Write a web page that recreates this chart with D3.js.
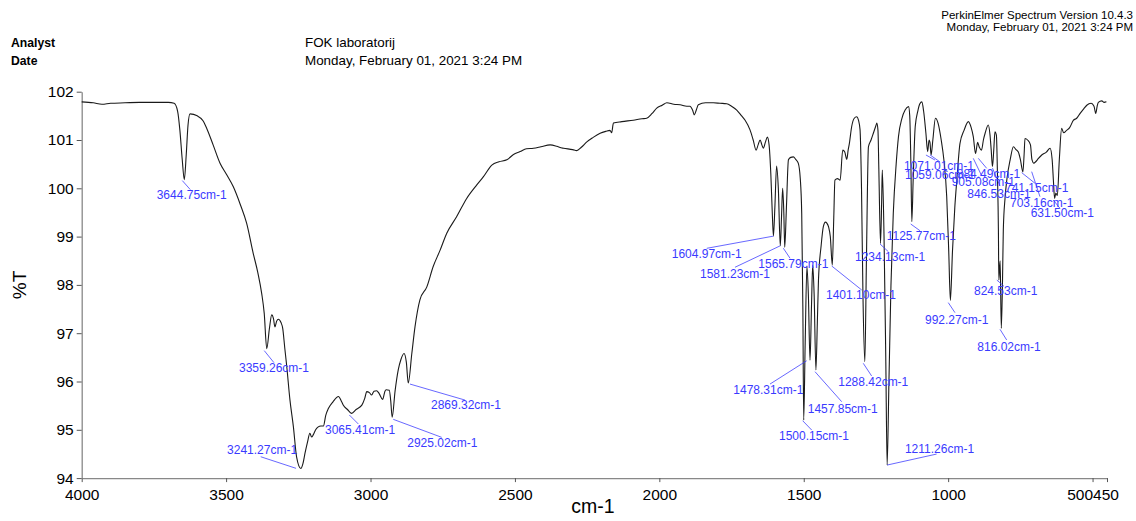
<!DOCTYPE html>
<html>
<head>
<meta charset="utf-8">
<script src="https://cdn.jsdelivr.net/npm/d3@7"></script>
<style>
  html, body { margin: 0; padding: 0; background: #fff; }
  svg { display: block; font-family: "Liberation Sans", Arial, sans-serif; }
</style>
</head>
<body>
<svg id="chart" width="1136" height="521"></svg>
<script>
// ---------- data ----------
const xTickValues = [4000, 3500, 3000, 2500, 2000, 1500, 1000, 500, 450];
const yTickValues = [94, 95, 96, 97, 98, 99, 100, 101, 102];

// spectrum: [wavenumber cm-1, %T]
const spectrum = [
  [4000,101.79],[3960,101.77],[3930,101.74],[3900,101.76],[3850,101.77],[3800,101.78],[3750,101.78],[3700,101.78],
  [3680,101.76],[3668,101.6],[3660,101.2],[3652,100.6],[3644.75,100.18],[3638,100.7],[3632,101.3],[3625,101.54],
  [3600,101.5],[3580,101.4],[3567,101.24],[3545,100.9],[3521,100.52],[3500,100.3],[3475,100.03],[3450,99.65],
  [3429,99.28],[3406,98.65],[3390,98.25],[3377,97.83],[3368,97.41],[3359.26,96.68],[3350,97.1],[3342,97.38],
  [3336,97.3],[3331,97.13],[3325,97.25],[3319,97.29],[3310,97.22],[3304,97.10],[3297,96.7],[3290,96.31],
  [3279,95.62],[3267,95.06],[3256,94.44],[3241.27,94.2],[3234,94.3],[3227,94.51],[3218,94.75],[3210,94.93],
  [3204,94.85],[3198,94.9],[3190,95.0],[3181,95.06],[3172,95.08],[3163,95.08],[3155,95.3],[3146,95.44],
  [3130,95.58],[3111,95.69],[3100,95.58],[3094,95.51],[3080,95.42],[3065.41,95.34],[3050,95.42],[3030,95.51],
  [3020,95.65],[3013,95.79],[3004,95.77],[2996,95.72],[2988,95.8],[2979,95.81],[2970,95.75],[2958,95.63],
  [2950,95.8],[2946,95.83],[2935,95.82],[2930,95.6],[2925.02,95.26],[2915,95.8],[2904,96.24],[2895,96.45],
  [2884,96.58],[2876,96.4],[2869.32,95.97],[2857,96.58],[2846,97.13],[2829,97.69],[2805,97.96],[2783,98.38],
  [2759,98.72],[2736,99.07],[2702,99.41],[2667,99.79],[2632,100.07],[2609,100.24],[2580,100.48],[2555,100.55],
  [2528,100.59],[2505,100.7],[2482,100.76],[2460,100.82],[2436,100.83],[2410,100.86],[2378,100.9],[2355,100.87],
  [2340,100.84],[2332,100.83],[2300,100.8],[2286,100.78],[2270,100.85],[2251,100.96],[2230,101.05],[2205,101.14],
  [2185,101.18],[2171,101.2],[2165,101.15],[2159,101.35],[2130,101.38],[2090,101.41],[2060,101.44],[2044,101.45],
  [2025,101.55],[2009,101.66],[1990,101.72],[1974,101.77],[1950,101.74],[1928,101.73],[1905,101.7],[1894,101.7],
  [1885,101.62],[1879,101.52],[1872,101.62],[1865,101.73],[1840,101.77],[1813,101.77],[1790,101.76],[1767,101.75],
  [1750,101.7],[1732,101.62],[1715,101.5],[1703,101.41],[1686,101.21],[1675,101.0],[1665,100.79],[1658,100.9],
  [1651,101.0],[1645,100.9],[1640,100.83],[1633,100.95],[1626,101.06],[1620,100.9],[1614,100.3],[1609,99.5],
  [1604.97,99.01],[1600,99.6],[1594,100.46],[1588,100.0],[1581.23,98.81],[1577,99.4],[1573,100.0],[1569,99.5],
  [1565.79,98.78],[1560,99.6],[1553,100.59],[1545,100.64],[1536,100.65],[1528,100.6],[1519,100.52],[1512,100.2],
  [1507,99.48],[1503,97.5],[1500.15,95.2],[1495,96.8],[1489,98.38],[1484,97.8],[1478.31,96.44],[1473,97.6],
  [1469,98.41],[1464,97.8],[1457.85,96.24],[1453,97.2],[1449,98.10],[1440,98.8],[1432,99.21],[1425,99.3],
  [1420,99.28],[1414,99.2],[1408,99.0],[1401.10,98.41],[1396,99.4],[1392,100.17],[1383,100.2],[1374,100.17],
  [1365,100.79],[1358,100.75],[1351,100.6],[1346,100.8],[1342,100.93],[1334,101.28],[1325,101.45],[1317,101.48],
  [1310,101.4],[1305,101.21],[1300,100.0],[1295,97.8],[1288.42,96.41],[1283,98.5],[1276,100.86],[1267,101.0],
  [1259,101.14],[1250,101.3],[1247,101.35],[1243,101.2],[1240,100.4],[1234.13,98.86],[1230,99.8],[1228,100.38],
  [1222,99.0],[1216,96.5],[1211.26,94.27],[1205,96.0],[1198,98.0],[1190,99.48],[1180,100.5],[1172,101.07],
  [1160,101.45],[1149,101.62],[1137,101.69],[1133,101.5],[1129,100.5],[1125.77,99.31],[1121,100.2],[1114,101.28],
  [1105,101.6],[1098,101.75],[1091,101.79],[1085,101.6],[1077,101.14],[1071.01,100.76],[1066,101.0],[1063,100.95],
  [1059.06,100.69],[1053,101.0],[1044,101.45],[1035,101.35],[1024,101.0],[1015,100.6],[1005,99.83],[998,98.7],
  [992.27,97.68],[985,98.7],[977,99.6],[970,100.17],[959,100.93],[945,101.2],[930,101.38],[920,101.25],
  [913,101.07],[905.08,100.72],[898,100.95],[892,100.85],[884.49,100.79],[878,101.0],[872,101.14],[861,101.31],
  [855,101.1],[851,100.8],[846.53,100.45],[842,100.8],[838,101.17],[833,101.1],[829,100.2],[826,99.14],
  [824.53,98.1],[820,98.5],[816.02,97.1],[812,98.0],[809,99.14],[803,99.8],[797,100.17],[785,100.6],
  [774,100.86],[765,100.8],[757,100.75],[750,100.6],[741.15,100.34],[737,100.7],[734,101.03],[725,101.0],
  [715,100.9],[710,100.6],[703.16,100.52],[697,100.55],[690,100.6],[676,100.69],[660,100.75],[647,100.83],
  [640,100.6],[635,100.1],[631.5,99.79],[627,99.9],[622,99.85],[615,100.6],[607,101.24],[600,101.15],
  [590,101.2],[580,101.25],[566,101.41],[555,101.45],[543,101.55],[530,101.65],[520,101.72],[505,101.76],
  [495,101.7],[489,101.55],[484,101.7],[480,101.78],[468,101.81],[460,101.78],[452,101.79]
];

// labelled peaks: [wavenumber, %T]
const peaks = [
  [3644.75,100.18],[3359.26,96.68],[3241.27,94.2],[3065.41,95.34],[2925.02,95.26],[2869.32,95.97],
  [1604.97,99.01],[1581.23,98.81],[1565.79,98.78],[1500.15,95.2],[1478.31,96.44],[1457.85,96.24],
  [1401.10,98.41],[1288.42,96.41],[1234.13,98.86],[1211.26,94.27],[1125.77,99.31],[1071.01,100.76],
  [1059.06,100.69],[992.27,97.68],[905.08,100.72],[884.49,100.79],[846.53,100.45],[824.53,98.1],
  [816.02,97.1],[741.15,100.34],[703.16,100.52],[631.50,99.79]
];

// label layout, offsets from the peak point (px): [lineStartDx, lineStartDy, lineEndDx, lineEndDy, textDx, textDy]
const labelOffsets = [
  [-2,1, 6,10, -27.6,14.7],
  [-2.5,2, 7.2,14, -27.8,18.6],
  [-40.1,-11.7, -4.8,-0.1, -73.8,-18.4],
  [-2.3,1.6, 6.7,10.6, -26.6,15.9],
  [1.1,2.1, 49.5,20.1, 15.1,25.5],
  [1.7,1.1, 56.7,17.1, 22.7,22.1],
  [-66.7,12.2, 0,0, -101.7,17.9],
  [-45.3,21.5, 0,0, -80.3,27.5],
  [-1.4,1, 5.3,11, -26.4,16.4],
  [-1,0.6, 8,9.9, -24.7,15.9],
  [-40,23.8, -3.3,0.5, -76.7,29.8],
  [-0.9,1.8, 25.8,31.8, -8.2,38.4],
  [-0.6,0.9, 29.4,24.9, -6.3,29.9],
  [-1.6,1.6, 6.8,14.3, -26.6,20],
  [-0.5,0.6, 7.8,8.3, -25.5,13.3],
  [0,0, 49.5,-11, 17.8,-16.8],
  [-1.1,2.4, 8.2,9.1, -25.1,14.4],
  [-1.7,3.4, 7.3,8.4, -23.7,14.4],
  [-1,0, 9,7, -26.1,19.4],
  [-2.1,2.3, 4.6,12.3, -25.4,18.9],
  [-2.3,4.8, 6,22, -23.9,28.2],
  [-3.2,8.2, 5.2,18.2, -24.8,23.6],
  [0,1.5, 7.5,19.4, -25.2,26.7],
  [-2,0, 5,6, -24.8,10.9],
  [-1.3,0.9, 5.4,11.6, -24,18.3],
  [-1.2,0.8, 12.1,11.4, -17.9,15.8],
  [-2.2,8.5, 6.1,33.5, -23.9,39.1],
  [-1.3,1.6, 5.4,9.9, -23.9,14.3]
];

const headerLeft = [["Analyst", "FOK laboratorij"], ["Date", "Monday, February 01, 2021 3:24 PM"]];
const headerRight = ["PerkinElmer Spectrum Version 10.4.3", "Monday, February 01, 2021 3:24 PM"];
const xTitle = "cm-1";
const yTitle = "%T";

// ---------- drawing ----------
const svg = d3.select("#chart");
const x = d3.scaleLinear().domain([4000, 450]).range([81.7, 1107]);
const y = d3.scaleLinear().domain([94, 102]).range([478.1, 91.7]);

// header
headerLeft.forEach((row, i) => {
  const yy = [47.3, 64.7][i];
  svg.append("text").attr("x", 11).attr("y", yy).attr("font-size", 12.2).attr("font-weight", "bold").attr("fill", "#000").text(row[0]);
  svg.append("text").attr("x", 305).attr("y", yy).attr("font-size", 13.4).attr("fill", "#000").text(row[1]);
});
headerRight.forEach((t, i) => {
  svg.append("text").attr("x", 1133).attr("y", 19 + i * 11.7).attr("text-anchor", "end").attr("font-size", 11.5).attr("fill", "#000").text(t);
});

// axes
const xAxis = d3.axisBottom(x).tickValues(xTickValues).tickSize(4).tickSizeOuter(0).tickFormat(d3.format("d"));
const gx = svg.append("g").attr("transform", `translate(0,${y(94)})`).call(xAxis);
gx.select(".domain").attr("stroke", "#888").attr("stroke-width", 1.3);
gx.selectAll(".tick line").attr("stroke", "#555");
gx.selectAll(".tick text").attr("font-size", 15.5).attr("fill", "#000").attr("font-family", "Liberation Sans, Arial, sans-serif").attr("dy", "0.95em");
// "500" and "450" are printed touching, as in the original
gx.selectAll(".tick text").filter(d => d === 500).attr("text-anchor", "end").attr("dx", "0px");
gx.selectAll(".tick text").filter(d => d === 450).attr("text-anchor", "start").attr("dx", `${x(500) - x(450)}px`);

const yAxis = d3.axisLeft(y).tickValues(yTickValues).tickSize(5).tickSizeOuter(0).tickPadding(3).tickFormat(d3.format("d"));
const gy = svg.append("g").attr("transform", `translate(${x(4000)},0)`).call(yAxis);
gy.select(".domain").attr("stroke", "#888").attr("stroke-width", 1.3);
gy.selectAll(".tick line").attr("stroke", "#555");
gy.selectAll(".tick text").attr("font-size", 15.5).attr("fill", "#000").attr("font-family", "Liberation Sans, Arial, sans-serif");

// axis titles
svg.append("text").attr("x", 593).attr("y", 513).attr("text-anchor", "middle").attr("font-size", 19.5).attr("fill", "#000").text(xTitle);
svg.append("text").attr("transform", "translate(26,285) rotate(-90)").attr("text-anchor", "middle").attr("font-size", 19).attr("fill", "#000").text(yTitle);

// spectrum line
const line = d3.line().x(d => x(d[0])).y(d => y(d[1])).curve(d3.curveMonotoneX);
svg.append("path").datum(spectrum).attr("d", line).attr("fill", "none").attr("stroke", "#1a1a1a").attr("stroke-width", 1.1);

// peak labels
const labColor = "#3a3aff";
const g = svg.append("g");
peaks.forEach((p, i) => {
  const px = x(p[0]), py = y(p[1]);
  const o = labelOffsets[i];
  g.append("line").attr("x1", px + o[0]).attr("y1", py + o[1]).attr("x2", px + o[2]).attr("y2", py + o[3])
    .attr("stroke", labColor).attr("stroke-width", 0.9).attr("opacity", 0.85);
  g.append("text").attr("x", px + o[4]).attr("y", py + o[5]).attr("dy", "0.36em")
    .attr("font-size", 12).attr("fill", labColor).text(p[0].toFixed(2) + "cm-1");
});
</script>
</body>
</html>
